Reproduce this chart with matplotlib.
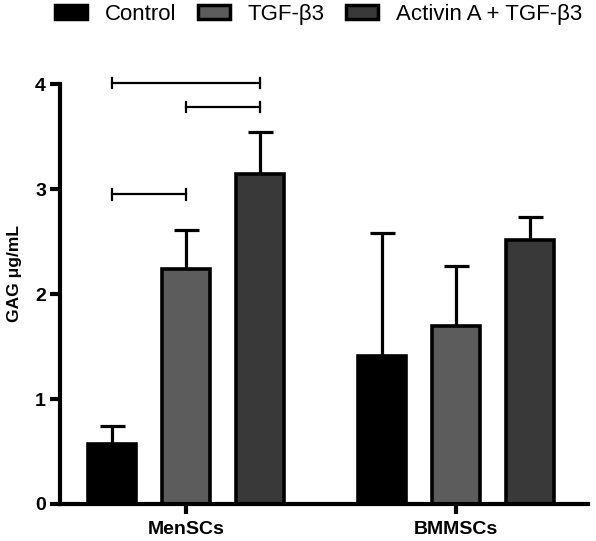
import matplotlib
matplotlib.use("Agg")
import matplotlib.pyplot as plt
import numpy as np
from matplotlib.patches import Patch

plt.rcParams['font.family'] = ['Liberation Sans', 'DejaVu Sans']

groups = ["MenSCs", "BMMSCs"]
series = ["Control", "TGF-β3", "Activin A + TGF-β3"]
colors = ["#000000", "#5c5c5c", "#393939"]
means = {
    "Control": [0.57, 1.41],
    "TGF-β3": [2.24, 1.70],
    "Activin A + TGF-β3": [3.14, 2.51],
}
errs = {
    "Control": [0.17, 1.17],
    "TGF-β3": [0.37, 0.57],
    "Activin A + TGF-β3": [0.40, 0.22],
}
# significance brackets (group index, series i, series j, height)
brackets = [(0, 0, 2, 4.01), (0, 1, 2, 3.78), (0, 0, 1, 2.95)]
yticks = [0, 1, 2, 3, 4]

fig = plt.figure(figsize=(5.96, 5.41), dpi=100)
ax = fig.add_axes([60/596, 1-504/541, 528/596, 420/541])

group_pos = np.array([0.0, 3.65])
step = 1.0
width = 0.65
offsets = (np.arange(len(series)) - 1) * step

for i, s in enumerate(series):
    x = group_pos + offsets[i]
    ax.bar(x, means[s], width=width, color=colors[i], edgecolor="black",
           linewidth=2.6, zorder=2)
    ax.errorbar(x, means[s], yerr=[np.zeros(len(groups)), errs[s]], fmt="none",
                ecolor="black", elinewidth=2.3, capsize=9, capthick=2.3, zorder=1)

for g, i, j, h in brackets:
    x1 = group_pos[g] + offsets[i]
    x2 = group_pos[g] + offsets[j]
    ax.plot([x1, x2], [h, h], color="black", lw=1.6, clip_on=False)
    ax.plot([x1, x1], [h - 0.05, h + 0.05], color="black", lw=1.6, clip_on=False)
    ax.plot([x2, x2], [h - 0.05, h + 0.05], color="black", lw=1.6, clip_on=False)

ax.set_xlim(-1.70, 5.43)
ax.set_ylim(0, 4)
ax.set_yticks(yticks)
ax.set_yticklabels([str(t) for t in yticks], fontweight="bold", fontsize=14)
ax.set_xticks(group_pos)
ax.set_xticklabels(groups, fontweight="bold", fontsize=14)
ax.spines["top"].set_visible(False)
ax.spines["right"].set_visible(False)
ax.spines["left"].set_linewidth(3)
ax.spines["bottom"].set_linewidth(3)
ax.tick_params(axis="both", width=3, length=7, direction="out")
ax.tick_params(axis="x", pad=5)
ax.tick_params(axis="y", pad=3)
ax.set_ylabel("GAG μg/mL", fontweight="bold", fontsize=12.5)
ax.yaxis.set_label_coords(-0.072, 0.548)

handles = [Patch(facecolor=c, edgecolor="black", linewidth=2.5) for c in colors]
fig.legend(handles, series, loc="upper left", bbox_to_anchor=(55/596, 1 - 4/541),
           ncol=3, frameon=False, fontsize=16, handlelength=1.45, handleheight=0.63,
           columnspacing=0.95, handletextpad=0.8, borderpad=0, borderaxespad=0)

fig.savefig("out.png", dpi=100)
